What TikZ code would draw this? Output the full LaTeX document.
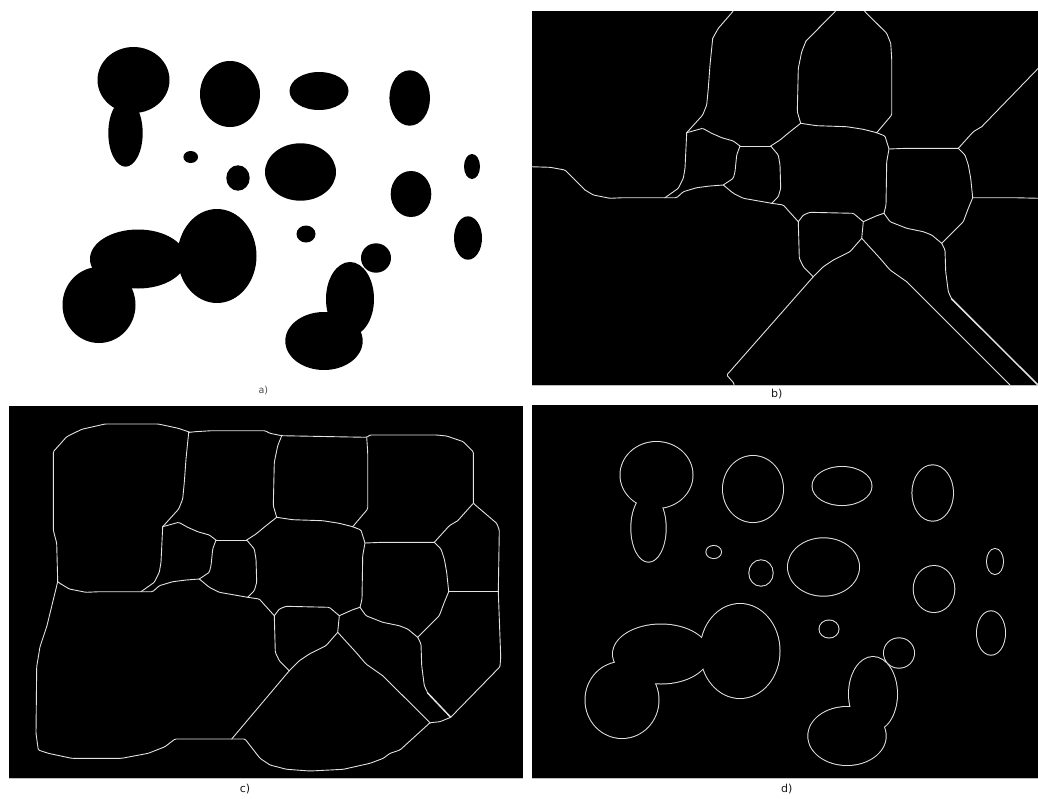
\documentclass[tikz,border=0pt]{standalone}
\usepackage{fontspec}
\setmainfont{DejaVu Sans}
\definecolor{lg}{RGB}{226,226,226}
\tikzset{
  net/.style={draw=lg, line width=0.9pt, line join=round, line cap=round, rounded corners=1.2pt},
  thick net/.style={net, line width=1.5pt},
  rim/.style={draw=lg, line width=2pt},
  panel/.style={fill=black},
  baseline rule/.style={draw=black!25, line width=0.8pt},
  lbl/.style={font=\fontsize{11}{13}\selectfont, text=black!90, inner sep=0pt},
  small lbl/.style={font=\fontsize{9.5}{11}\selectfont, text=black!70, inner sep=0pt}
}
\newcommand{\blobs}{133.5/80/36/33, 125.5/133/17.2/33.7, 230/94/30/33, 319/91/29.5/19,
  409.7/98/20.3/27.7, 190.7/157/7.3/6, 238/178/11.7/12.7, 300.5/172/35.5/28.7,
  411/194/20.3/23, 472/166.5/8/12.5, 306/234/9.5/8.5, 468/238/14/21.7,
  376/258/15/14.7, 350/299/24/37, 324/341/38.7/29, 138/259/48/29.5,
  217/256/39.5/47, 99/305/36.5/38}
\newcommand{\netcore}{%
\draw[net] (686.7,132.7) -- (685,168.3) -- (683.3,178.3) -- (678.3,188.3) -- (665,197.7);
\draw[net] (686.7,132.7) -- (702.7,128.3) -- (711.7,133.3) -- (721.7,137.7) -- (733.3,141) -- (740,146);
\draw[net] (740,146) -- (770.7,146);
\draw[net] (740,146) -- (736.7,155) -- (735,171.7) -- (733.3,178.3) -- (723.3,185);
\draw[net] (723.3,185) -- (710,186) -- (696.7,187.7) -- (683.3,191.7) -- (676.7,197.7) -- (665,197.7);
\draw[net] (723.3,185) -- (733.3,193.3) -- (743.3,198.3) -- (771.7,203.3);
\draw[net] (770.7,146) -- (778.3,155) -- (780,165) -- (780.7,188.3) -- (778.3,196.7) -- (771.7,203.3);
\draw[net] (770.7,146) -- (780,140) -- (790,131.7) -- (800.7,123.3);
\draw[net] (771.7,203.3) -- (783.3,205) -- (790,212.5) -- (798.3,221.7);
\draw[net] (800.7,123.3) -- (816.7,125.7) -- (846.7,126.7) -- (863.3,129.3) -- (876.7,132.7);
\draw[net] (876.7,132.7) -- (885,136) -- (886.7,141.7) -- (889,149);
\draw[net] (889,149) -- (906.7,148.3) -- (958.3,148.3);
\draw[net] (958.3,148.3) -- (965,155) -- (968.3,165) -- (970.7,178.3) -- (972.7,197.7);
\draw[net] (972.7,197.7) -- (968.3,208.3) -- (963.3,221.7) -- (941.7,243.3);
\draw[net] (889,149) -- (886.7,161.7) -- (886,205) -- (884,213.3);
\draw[net] (884,213.3) -- (890,221.7) -- (906.7,228.3) -- (923.3,231.7) -- (931.7,235) -- (941.7,243.3);
\draw[net] (884,213.3) -- (876.7,215.7) -- (863.3,221.7);
\draw[net] (863.3,221.7) -- (861.7,238.3);
\draw[net] (861.7,238.3) -- (850,251.7) -- (833.3,260) -- (823.3,266.7) -- (813.3,276.7);
\draw[net] (863.3,221.7) -- (853.3,213.3) -- (810,212.3) -- (803.3,215) -- (798.3,221.7);
\draw[net] (798.3,221.7) -- (799.3,258.3) -- (803.3,266.7) -- (813.3,276.7);
\draw[net] (686.7,132.7) -- (702.7,115) -- (706.7,105) -- (708.3,88.3) -- (710,65) -- (712.7,38.3);
\draw[net] (800.7,123.3) -- (797.3,111.7) -- (798.3,68.3) -- (801.7,51.7) -- (806,41);
\draw[net] (876.7,132.7) -- (891.7,115) -- (891.7,58.3) -- (890.7,43.3);
\draw[net] (941.7,243.3) -- (945,250) -- (945.7,271.7) -- (948.3,291.7) -- (951.7,299);
\draw[net] (861.7,238.3) -- (880,258.3) -- (890,270) -- (906.7,281.7);
\draw[net] (665,197.7) -- (623.3,197.7) -- (610,198.3) -- (593.3,195) -- (585,190);
\draw[net] (958.3,148.3) -- (973.3,131.7) -- (981.7,126.7);
}
\begin{document}
\begin{tikzpicture}[x=1pt,y=-1pt]
\fill[white] (0,0) rectangle (1038,798);
\useasboundingbox (0,0) rectangle (1038,798);

% ---------- panel a ----------
\foreach \cx/\cy/\rx/\ry in \blobs {
  \fill[black] (\cx,\cy) ellipse [x radius=\rx pt, y radius=\ry pt];
}
\node[small lbl] (la) at (263.3,390.3) {a)};

% ---------- panel b ----------
\fill[panel] (532,11) rectangle (1038,385);
\draw[baseline rule] (532,385.6) -- (1038,385.6);
\begin{scope}
\clip (532,11) rectangle (1038,385);
\netcore
\draw[net] (712.7,38.3) -- (718.3,28.3) -- (732.7,11.7) -- (735,8);
\draw[net] (806,41) -- (835,11.7) -- (838,8);
\draw[net] (890.7,43.3) -- (886.7,33.3) -- (865,11.7) -- (862,8);
\draw[thick net] (951.7,299) -- (1040,387);
\draw[net] (906.7,281.7) -- (1010,385);
\draw[net] (813.3,276.7) -- (728.3,373.3) -- (726.7,375) -- (734,383.3) -- (734,388);
\draw[net] (585,190) -- (565,170) -- (550,167.3) -- (530,166.7);
\draw[net] (981.7,126.7) -- (1040,66.5);
\draw[net] (972.7,197.7) -- (1013.3,197.7) -- (1040,198.3);
\end{scope}
\node[lbl] (lb) at (776.7,394) {b)};

% ---------- panel c ----------
\fill[panel] (9,406) rectangle (523,778);
\draw[baseline rule] (9,778.6) -- (523,778.6);
\begin{scope}[shift={(-524,394)}]
\netcore
\draw[thick net] (951.7,299) -- (974.7,323.3);
\draw[net] (906.7,281.7) -- (954,328.7);
\draw[net] (813.3,276.7) -- (755.7,345);
\draw[net] (585,190) -- (581.7,187.7);
\draw[net] (981.7,126.7) -- (997.3,109.3);
\draw[net] (972.7,197.7) -- (1022.3,197.7);
\draw[net] (712.7,38.3) -- (714,38.3);
\end{scope}
\draw[net] (57.7,581.7) -- (56.7,543.3) -- (53.3,530) -- (53.3,451.7) -- (66.7,436.7) -- (81.7,429.3)
  -- (105,424) -- (158.3,424) -- (178.3,428.3) -- (190,432.3) -- (195,431.7) -- (211.7,430.7)
  -- (265,430.7) -- (270,433.3) -- (281.7,435.7) -- (366.7,437.3) -- (370,435) -- (436.7,435)
  -- (446.7,436) -- (463.3,441.7) -- (473.3,451.7) -- (473.3,503.3) -- (496.7,523.3) -- (499.3,530)
  -- (498.3,591.7) -- (500.7,656.7) -- (500,666.7) -- (450.7,717.3) -- (440,721.7) -- (430,722.7)
  -- (400,750) -- (390,753.3) -- (383.3,758.3) -- (370,763.3) -- (343.3,769.3) -- (310,771)
  -- (286.7,769.3) -- (270,765) -- (260,758.3) -- (245,739) -- (231.7,739) -- (175,739)
  -- (165,746.7) -- (148.3,753.3) -- (121.7,758.3) -- (71.7,758.3) -- (48.3,753.3) -- (38.3,750)
  -- (36,733.3) -- (36.7,666.7) -- (40,646.7) -- (46.7,626.7) -- (50,613.3) -- cycle;
\node[lbl] (lc) at (245,789) {c)};

% ---------- panel d ----------
\fill[panel] (532,405) rectangle (1038,778);
\draw[baseline rule] (532,778.6) -- (1038,778.6);
\begin{scope}[shift={(523,395)}]
\foreach \cx/\cy/\rx/\ry in \blobs {
  \draw[rim] (\cx,\cy) ellipse [x radius=\rx pt, y radius=\ry pt];
}
\foreach \cx/\cy/\rx/\ry in \blobs {
  \fill[black] (\cx,\cy) ellipse [x radius=\rx pt, y radius=\ry pt];
}
\end{scope}
\node[lbl] (ld) at (786.7,789) {d)};
\end{tikzpicture}
\end{document}
